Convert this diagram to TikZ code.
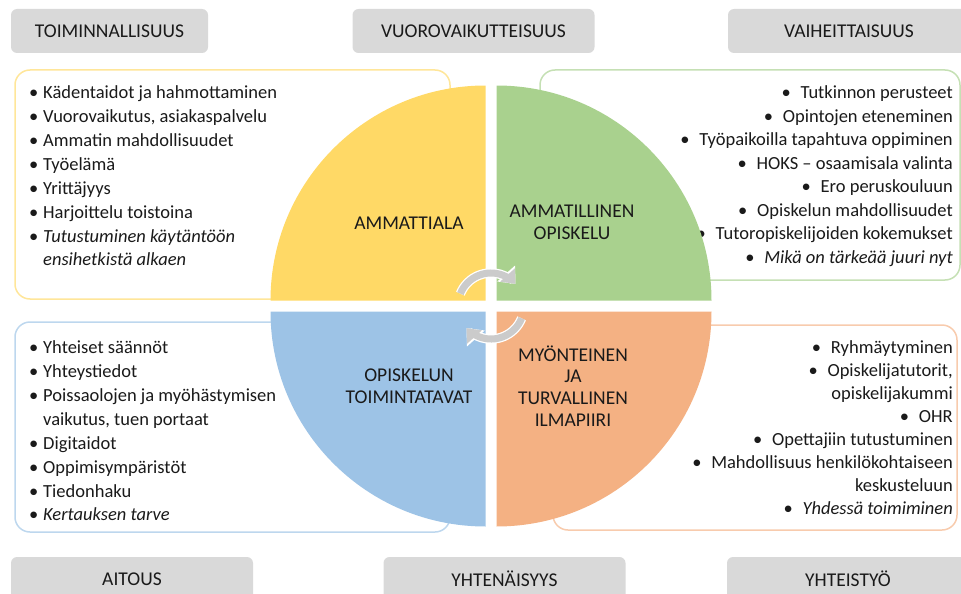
\documentclass[tikz,border=0pt]{standalone}
\usepackage{fontspec}
\setmainfont{Carlito}
\usetikzlibrary{arrows.meta}
\definecolor{txt}{HTML}{1A1A1A}
\definecolor{hdrgray}{HTML}{D9D9D9}
\definecolor{cycgray}{HTML}{CBCBCB}
\definecolor{yel}{HTML}{FFD966}
\definecolor{grn}{HTML}{A9D18E}
\definecolor{blu}{HTML}{9DC3E6}
\definecolor{org}{HTML}{F4B183}
\definecolor{yelline}{HTML}{FFE699}
\definecolor{grnline}{HTML}{C5E0B4}
\definecolor{bluline}{HTML}{BDD7EE}
\definecolor{orgline}{HTML}{F8CBAD}
\newcommand{\lbul}{\makebox[14pt][l]{•}}
\newcommand{\rbul}{\makebox[19pt][l]{•}}
\tikzset{
    hdr/.style={fill=hdrgray, rounded corners=6pt, minimum width=242pt, minimum height=44pt,
        inner sep=0pt, text=txt, font=\fontsize{19.5}{23}\selectfont},
    listbox/.style={line width=1.5pt, fill=white, rounded corners=15pt},
    lst/.style={inner sep=0pt, text=txt, font=\fontsize{18.5}{22}\selectfont},
    quadlbl/.style={align=center, inner sep=0pt, text=txt, font=\fontsize{19.5}{21.7}\selectfont},
    cycw/.style={line width=9.5pt, draw=white, -{Triangle[width=23pt,length=14pt]}},
    cyc/.style={line width=7pt, draw=cycgray, -{Triangle[width=19pt,length=12pt]}}
}
\begin{document}
\begin{tikzpicture}[x=1pt,y=-1pt]
	\useasboundingbox (0,0) rectangle (961,594);
	% list boxes behind the circle
	\draw[listbox, draw=yelline] (15,70) rectangle (450,299);
	\draw[listbox, draw=grnline] (540,70) rectangle (960,280);
	\draw[listbox, draw=bluline] (15,322) rectangle (450,532);
	\draw[listbox, draw=orgline] (553,325) rectangle (957,530);
	% ammattiala
	\node[lst, anchor=base west] (a1) at (29,98) {\lbul Kädentaidot ja hahmottaminen};
	\node[lst, anchor=base west] (a2) at (29,122) {\lbul Vuorovaikutus, asiakaspalvelu};
	\node[lst, anchor=base west] (a3) at (29,146) {\lbul Ammatin mahdollisuudet};
	\node[lst, anchor=base west] (a4) at (29,170) {\lbul Työelämä};
	\node[lst, anchor=base west] (a5) at (29,194) {\lbul Yrittäjyys};
	\node[lst, anchor=base west] (a6) at (29,218) {\lbul Harjoittelu toistoina};
	\node[lst, anchor=base west] (a7) at (29,242) {\lbul\textit{Tutustuminen käytäntöön}};
	\node[lst, anchor=base west] (a8) at (43,265) {\textit{ensihetkistä alkaen}};
	% ammatillinen opiskelu
	\node[lst, anchor=base east] (b1) at (953,98) {\rbul Tutkinnon perusteet};
	\node[lst, anchor=base east] (b2) at (953,122) {\rbul Opintojen eteneminen};
	\node[lst, anchor=base east] (b3) at (953,145) {\rbul Työpaikoilla tapahtuva oppiminen};
	\node[lst, anchor=base east] (b4) at (953,169) {\rbul HOKS -- osaamisala valinta};
	\node[lst, anchor=base east] (b5) at (953,192) {\rbul Ero peruskouluun};
	\node[lst, anchor=base east] (b6) at (953,216) {\rbul Opiskelun mahdollisuudet};
	\node[lst, anchor=base east] (b7) at (953,239) {\rbul Tutoropiskelijoiden kokemukset};
	\node[lst, anchor=base east] (b8) at (953,263) {\rbul\textit{Mikä on tärkeää juuri nyt}};
	% opiskelun toimintatavat
	\node[lst, anchor=base west] (c1) at (29,353) {\lbul Yhteiset säännöt};
	\node[lst, anchor=base west] (c2) at (29,377) {\lbul Yhteystiedot};
	\node[lst, anchor=base west] (c3) at (29,401) {\lbul Poissaolojen ja myöhästymisen};
	\node[lst, anchor=base west] (c4) at (43,425) {vaikutus, tuen portaat};
	\node[lst, anchor=base west] (c5) at (29,449) {\lbul Digitaidot};
	\node[lst, anchor=base west] (c6) at (29,473) {\lbul Oppimisympäristöt};
	\node[lst, anchor=base west] (c7) at (29,497) {\lbul Tiedonhaku};
	\node[lst, anchor=base west] (c8) at (29,520) {\lbul\textit{Kertauksen tarve}};
	% ilmapiiri
	\node[lst, anchor=base east] (d1) at (953,353) {\rbul Ryhmäytyminen};
	\node[lst, anchor=base east] (d2) at (953,376) {\rbul Opiskelijatutorit,};
	\node[lst, anchor=base east] (d3) at (953,399) {opiskelijakummi};
	\node[lst, anchor=base east] (d4) at (953,422) {\rbul OHR};
	\node[lst, anchor=base east] (d5) at (953,445) {\rbul Opettajiin tutustuminen};
	\node[lst, anchor=base east] (d6) at (953,468) {\rbul Mahdollisuus henkilökohtaiseen};
	\node[lst, anchor=base east] (d7) at (953,491) {keskusteluun};
	\node[lst, anchor=base east] (d8) at (953,514) {\rbul\textit{Yhdessä toimiminen}};
	% quarter circles
	\fill[yel] (485.5,300.5) -- (270.5,300.5) arc (180:270:215) -- cycle;
	\fill[grn] (496.5,300.5) -- (496.5,85.5) arc (270:360:215) -- cycle;
	\fill[blu] (485.5,311.5) -- (270.5,311.5) arc (180:90:215) -- cycle;
	\fill[org] (496.5,311.5) -- (711.5,311.5) arc (0:90:215) -- cycle;
	% cycle arrows
	\coordinate (mid) at (491,306);
	\draw[cycw] (mid) ++(-158:33) arc (-158:-42:33);
	\draw[cyc] (mid) ++(-158:33) arc (-158:-42:33);
	\draw[cycw] (mid) ++(22:33) arc (22:138:33);
	\draw[cyc] (mid) ++(22:33) arc (22:138:33);
	\node[quadlbl] (qa) at (409,223) {AMMATTIALA};
	\node[quadlbl] (qb) at (572,222) {AMMATILLINEN\\OPISKELU};
	\node[quadlbl] (qc) at (409,386) {OPISKELUN\\TOIMINTATAVAT};
	\node[quadlbl] (qd) at (573,386) {MYÖNTEINEN\\JA\\TURVALLINEN\\ILMAPIIRI};
	% headers
	\node[hdr, minimum width=197pt] (toim) at (109.5,31) {TOIMINNALLISUUS};
	\node[hdr] (vuor) at (473.5,31) {VUOROVAIKUTTEISUUS};
	\node[hdr] (vaih) at (849,31) {VAIHEITTAISUUS};
	\node[hdr] (aito) at (132,579) {AITOUS};
	\node[hdr] (yhte) at (504.5,579) {YHTENÄISYYS};
	\node[hdr] (ytyo) at (848,579) {YHTEISTYÖ};
\end{tikzpicture}
\end{document}
